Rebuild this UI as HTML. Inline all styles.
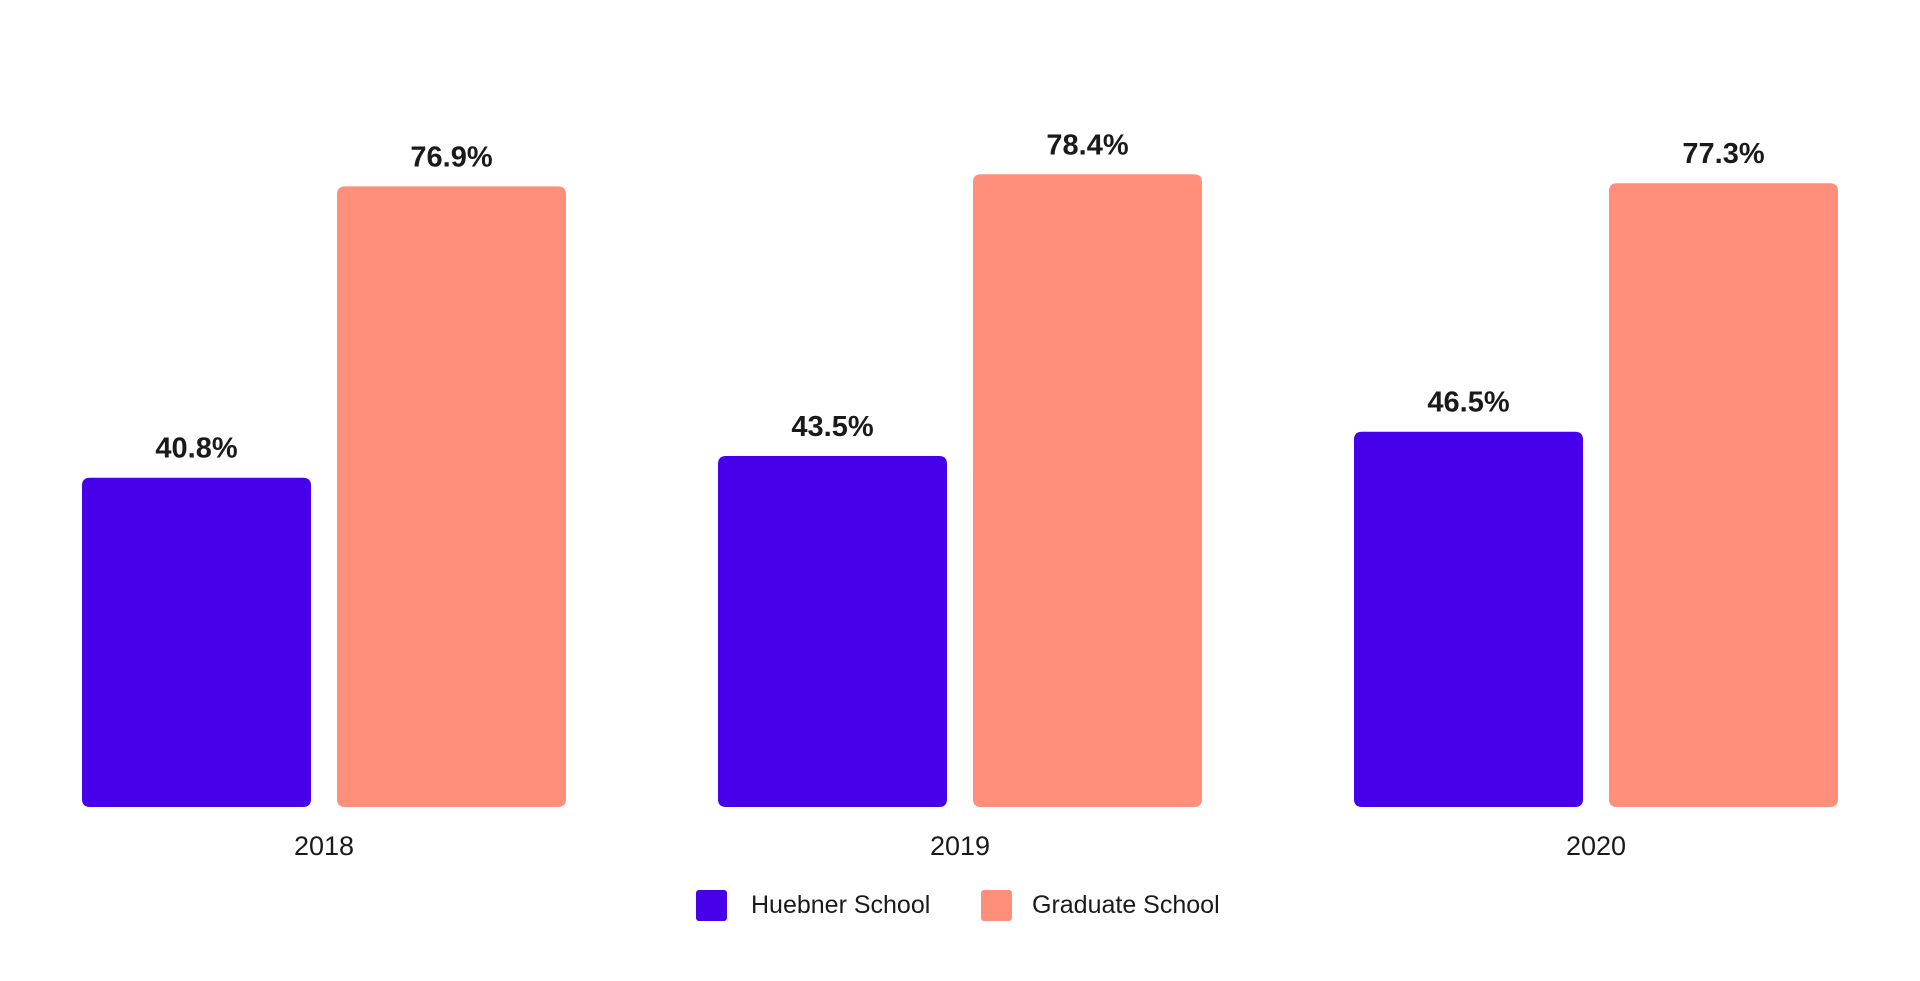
<!DOCTYPE html>
<html><head><meta charset="utf-8"><style>
body{margin:0;background:#fff;width:1920px;height:976px;overflow:hidden;font-family:"Liberation Sans",sans-serif}
.lg{position:absolute;white-space:nowrap;font-size:25px;line-height:31px;color:#1a1a1a}
</style></head><body>
<svg id="chart" width="1920" height="976"></svg>
<script>
const categories=["2018","2019","2020"];
const huebner=[40.8,43.5,46.5];
const graduate=[76.9,78.4,77.3];
const ns="http://www.w3.org/2000/svg";
const svg=document.getElementById('chart');
const y0=807, perUnit=8.07;
const y=v=>y0-v*perUnit;
const groupX=i=>82+i*636;
const barW=229;
function mk(tag,attrs){const e=document.createElementNS(ns,tag);for(const k in attrs)e.setAttribute(k,attrs[k]);svg.appendChild(e);return e;}
function bar(x,v,color,name){
  const top=y(v);
  const r=mk('path',{d:`M${x},${y0-8} V${top+8} Q${x},${top} ${x+8},${top} H${x+barW-8} Q${x+barW},${top} ${x+barW},${top+8} V${y0-8} Q${x+barW},${y0} ${x+barW-8},${y0} H${x+8} Q${x},${y0} ${x},${y0-8} Z`,fill:color});
  
  
  const t=mk('text',{x:x+barW/2,y:top-20,'text-anchor':'middle','font-size':29,'font-weight':'bold',fill:'#1a1a1a'});
  t.textContent=v.toFixed(1)+'%';
  
  
}
categories.forEach((c,i)=>{
  const gx=groupX(i);
  bar(gx,huebner[i],'#4600ea','bar-huebner-'+c);
  bar(gx+255,graduate[i],'#ff8e7b','bar-graduate-'+c);
  const t=mk('text',{x:gx+242,y:855,'text-anchor':'middle','font-size':27,fill:'#1a1a1a'});
  t.textContent=c;
  
  
});
</script>
<div style="position:absolute;left:0;top:0">
<div style="position:absolute;left:696px;top:890px;width:31px;height:31px;border-radius:3px;background:#4600ea"></div>
<div class="lg" style="left:751px;top:890px">Huebner School</div>
<div style="position:absolute;left:981px;top:890px;width:31px;height:31px;border-radius:3px;background:#ff8e7b"></div>
<div class="lg" style="left:1032px;top:890px">Graduate School</div>
</div>
</body></html>
